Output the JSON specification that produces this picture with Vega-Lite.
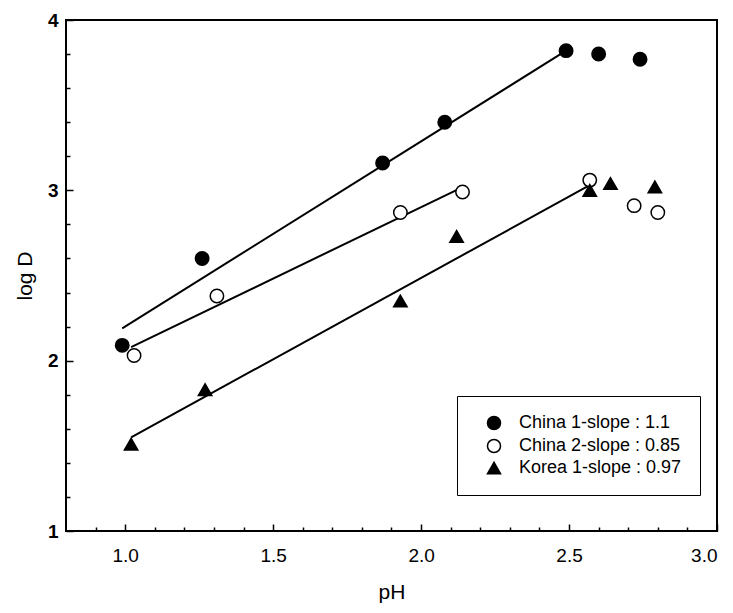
{
  "$schema": "https://vega.github.io/schema/vega-lite/v6.json",
  "autosize": "none",
  "padding": {"left": 66, "top": 20, "right": 16, "bottom": 82},
  "width": 651,
  "height": 511,
  "background": "white",
  "config": {
    "font": "Liberation Sans",
    "view": {"stroke": "black", "strokeWidth": 2},
    "axis": {"grid": false, "domain": false, "tickColor": "black", "tickWidth": 1.5, "labelColor": "black", "titleColor": "black", "labelFontSize": 19, "titleFontSize": 21, "titleFontWeight": "normal"}
  },
  "datasets": {
    "pts": [
      {"series": "China 1-slope : 1.1", "pH": 0.99, "logD": 2.09},
      {"series": "China 1-slope : 1.1", "pH": 1.26, "logD": 2.6},
      {"series": "China 1-slope : 1.1", "pH": 1.87, "logD": 3.16},
      {"series": "China 1-slope : 1.1", "pH": 2.08, "logD": 3.4},
      {"series": "China 1-slope : 1.1", "pH": 2.49, "logD": 3.82},
      {"series": "China 1-slope : 1.1", "pH": 2.6, "logD": 3.8},
      {"series": "China 1-slope : 1.1", "pH": 2.74, "logD": 3.77},
      {"series": "China 2-slope : 0.85", "pH": 1.03, "logD": 2.03},
      {"series": "China 2-slope : 0.85", "pH": 1.31, "logD": 2.38},
      {"series": "China 2-slope : 0.85", "pH": 1.93, "logD": 2.87},
      {"series": "China 2-slope : 0.85", "pH": 2.14, "logD": 2.99},
      {"series": "China 2-slope : 0.85", "pH": 2.57, "logD": 3.06},
      {"series": "China 2-slope : 0.85", "pH": 2.72, "logD": 2.91},
      {"series": "China 2-slope : 0.85", "pH": 2.8, "logD": 2.87},
      {"series": "Korea 1-slope : 0.97", "pH": 1.02, "logD": 1.51},
      {"series": "Korea 1-slope : 0.97", "pH": 1.27, "logD": 1.83},
      {"series": "Korea 1-slope : 0.97", "pH": 1.93, "logD": 2.35},
      {"series": "Korea 1-slope : 0.97", "pH": 2.12, "logD": 2.73},
      {"series": "Korea 1-slope : 0.97", "pH": 2.57, "logD": 3.0},
      {"series": "Korea 1-slope : 0.97", "pH": 2.64, "logD": 3.04},
      {"series": "Korea 1-slope : 0.97", "pH": 2.79, "logD": 3.02}
    ],
    "fits": [
      {"series": "China 1-slope : 1.1", "pH": 0.99, "logD": 2.19},
      {"series": "China 1-slope : 1.1", "pH": 2.49, "logD": 3.82},
      {"series": "China 2-slope : 0.85", "pH": 1.02, "logD": 2.08},
      {"series": "China 2-slope : 0.85", "pH": 2.13, "logD": 3.01},
      {"series": "Korea 1-slope : 0.97", "pH": 1.02, "logD": 1.55},
      {"series": "Korea 1-slope : 0.97", "pH": 2.57, "logD": 3.03}
    ]
  },
  "resolve": {"axis": {"x": "independent", "y": "independent"}},
  "layer": [
    {
      "data": {"name": "fits"},
      "mark": {"type": "line", "color": "black", "strokeWidth": 2},
      "encoding": {
        "x": {"field": "pH", "type": "quantitative", "scale": {"domain": [0.8, 3.0], "nice": false, "zero": false},
          "axis": {"orient": "bottom", "values": [1, 1.5, 2, 2.5, 3], "format": ".1f", "tickSize": -7, "labelPadding": 22, "title": "pH", "titlePadding": 16}},
        "y": {"field": "logD", "type": "quantitative", "scale": {"domain": [1, 4], "nice": false, "zero": false},
          "axis": {"orient": "left", "values": [1, 2, 3, 4], "format": "d", "tickSize": -7, "labelPadding": 15, "labelFontWeight": "bold", "title": "log D", "titlePadding": 12}},
        "detail": {"field": "series"}
      }
    },
    {
      "data": {"name": "pts"},
      "mark": {"type": "point", "filled": true, "stroke": "black", "strokeWidth": 1.5, "size": 180, "opacity": 1},
      "encoding": {
        "x": {"field": "pH", "type": "quantitative",
          "axis": {"orient": "bottom", "values": [0.9, 1.1, 1.2, 1.3, 1.4, 1.6, 1.7, 1.8, 1.9, 2.1, 2.2, 2.3, 2.4, 2.6, 2.7, 2.8, 2.9], "labels": false, "tickSize": -4, "title": null}},
        "y": {"field": "logD", "type": "quantitative",
          "axis": {"orient": "left", "values": [1.2, 1.4, 1.6, 1.8, 2.2, 2.4, 2.6, 2.8, 3.2, 3.4, 3.6, 3.8], "labels": false, "tickSize": -4, "title": null}},
        "shape": {"field": "series", "type": "nominal",
          "scale": {"domain": ["China 1-slope : 1.1", "China 2-slope : 0.85", "Korea 1-slope : 0.97"], "range": ["circle", "circle", "triangle-up"]},
          "legend": {"orient": "none", "legendX": 391, "legendY": 376, "title": null, "padding": 18, "strokeColor": "black", "fillColor": "white", "labelFontSize": 18, "labelColor": "black", "labelLimit": 400, "symbolSize": 170, "symbolOffset": 10, "labelOffset": 16, "rowPadding": 3,
            "encode": {"symbols": {"update": {"stroke": {"value": "black"}, "strokeWidth": {"value": 1.5}}}}}},
        "fill": {"field": "series", "type": "nominal",
          "scale": {"domain": ["China 1-slope : 1.1", "China 2-slope : 0.85", "Korea 1-slope : 0.97"], "range": ["black", "white", "black"]}}
      }
    }
  ]
}
